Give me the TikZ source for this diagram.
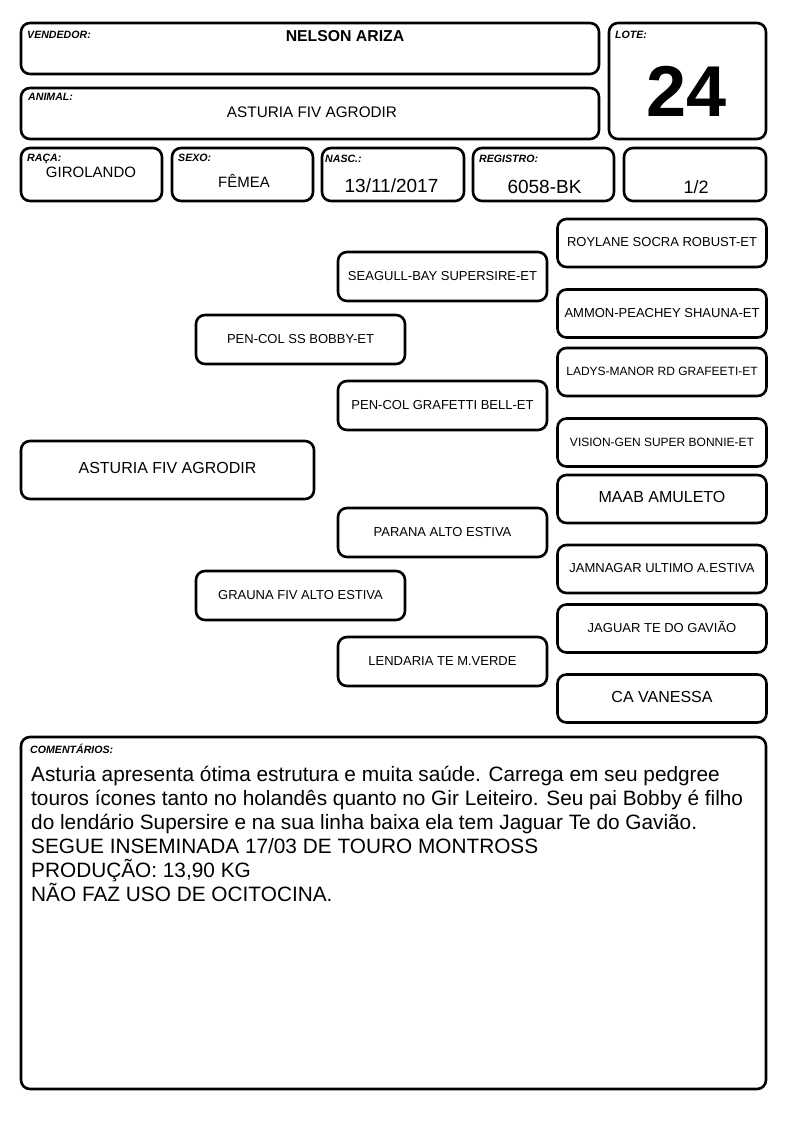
\documentclass[tikz,border=0pt]{standalone}
\usepackage{fontspec}
\setmainfont{Liberation Sans}
\usetikzlibrary{positioning}

\begin{document}
\begin{tikzpicture}[x=1pt,y=-1pt,
	field/.style={draw=black,line width=2.6pt,rounded corners=9pt,inner sep=0pt},
	fieldname/.style={anchor=base west,inner sep=0pt,font=\fontsize{10.6}{12}\selectfont\bfseries\itshape},
	value/.style={anchor=base,inner sep=0pt},
	pedbox/.style={field,minimum width=209pt,minimum height=48pt,text height=0.76em,text depth=0pt,font=\fontsize{13}{15}\selectfont}]
	
	\useasboundingbox (0,0) rectangle (794,1123);
	
	% header
	\node[field,minimum width=578pt,minimum height=51pt] (vendedor) at (310,48.5) {};
	\node[field,minimum width=578pt,minimum height=51pt] (animal) at (310,113.5) {};
	\node[field,minimum width=157pt,minimum height=116pt] (lote) at (687.5,81) {};
	\node[fieldname] (vendedorname) at (27,39) {VENDEDOR:};
	\node[fieldname] (animalname) at (28,101) {ANIMAL:};
	\node[fieldname] (lotename) at (615,39) {LOTE:};
	\node[value,font=\fontsize{15.8}{18}\selectfont\bfseries] (vendedortext) at (345,42) {NELSON ARIZA};
	\node[value,font=\fontsize{15.3}{18}\selectfont] (animaltext) at (312,118) {ASTURIA FIV AGRODIR};
	\node[value,font=\fontsize{72}{80}\selectfont\bfseries] (lotetext) at (687,117) {24};
	
	% data row
	\node[field,minimum width=141pt,minimum height=53pt] (raca) at (91.5,174.5) {};
	\node[field,minimum width=141pt,minimum height=53pt] (sexo) at (242.5,174.5) {};
	\node[field,minimum width=142pt,minimum height=53pt] (nasc) at (393,174.5) {};
	\node[field,minimum width=141pt,minimum height=53pt] (registro) at (543.5,174.5) {};
	\node[field,minimum width=142pt,minimum height=53pt] (parte) at (695,174.5) {};
	\node[fieldname] (racaname) at (27,162) {RAÇA:};
	\node[fieldname] (sexoname) at (178,162) {SEXO:};
	\node[fieldname] (nascname) at (325,163) {NASC.:};
	\node[fieldname] (registroname) at (479,163) {REGISTRO:};
	\node[value,font=\fontsize{15}{18}\selectfont] (racatext) at (91,178) {GIROLANDO};
	\node[value,font=\fontsize{15}{18}\selectfont] (sexotext) at (244,188) {FÊMEA};
	\node[value,font=\fontsize{19}{22}\selectfont] (nasctext) at (391.5,193) {13/11/2017};
	\node[value,font=\fontsize{19}{22}\selectfont] (registrotext) at (544.5,194) {6058-BK};
	\node[value,font=\fontsize{18}{21}\selectfont] (partetext) at (696,194) {1/2};
	
	% pedigree
	\node[pedbox,minimum width=293pt,minimum height=58pt,font=\fontsize{16}{19}\selectfont] (asturia) at (167.5,470) {ASTURIA FIV AGRODIR};
	
	\node[pedbox,minimum height=49pt] (bobby) at (300.5,339.5) {PEN-COL SS BOBBY-ET};
	\node[pedbox,minimum height=49pt] (grauna) at (300.5,595.5) {GRAUNA FIV ALTO ESTIVA};
	
	\node[pedbox,minimum height=49pt] (supersire) at (442.5,276.5) {SEAGULL-BAY SUPERSIRE-ET};
	\node[pedbox,minimum height=49pt] (bell) at (442.5,405.5) {PEN-COL GRAFETTI BELL-ET};
	\node[pedbox,minimum height=49pt] (parana) at (442.5,532.5) {PARANA ALTO ESTIVA};
	\node[pedbox,minimum height=49pt] (lendaria) at (442.5,661.5) {LENDARIA TE M.VERDE};
	
	\node[pedbox] (robust) at (662,243) {ROYLANE SOCRA ROBUST-ET};
	\node[pedbox] (shauna) at (662,313.5) {AMMON-PEACHEY SHAUNA-ET};
	\node[pedbox,font=\fontsize{12}{14}\selectfont] (ladys) at (662,372) {LADYS-MANOR RD GRAFEETI-ET};
	\node[pedbox,font=\fontsize{12}{14}\selectfont] (bonnie) at (662,442.5) {VISION-GEN SUPER BONNIE-ET};
	\node[pedbox,font=\fontsize{16}{19}\selectfont] (maab) at (662,499) {MAAB AMULETO};
	\node[pedbox] (jamnagar) at (662,569) {JAMNAGAR ULTIMO A.ESTIVA};
	\node[pedbox] (jaguar) at (662,628.5) {JAGUAR TE DO GAVIÃO};
	\node[pedbox,font=\fontsize{16}{19}\selectfont] (vanessa) at (662,698.5) {CA VANESSA};
	
	% comments
	\node[field,minimum width=745pt,minimum height=352pt] (comentarios) at (393.5,913) {};
	\node[fieldname] (comentariosname) at (30,753) {COMENTÁRIOS:};
	\foreach \line [count=\i from 0] in {{Asturia apresenta ótima estrutura e muita saúde. Carrega em seu pedgree},
		{touros ícones tanto no holandês quanto no Gir Leiteiro. Seu pai Bobby é filho},
		{do lendário Supersire e na sua linha baixa ela tem Jaguar Te do Gavião.},
		{SEGUE INSEMINADA 17/03 DE TOURO MONTROSS},
		{PRODUÇÃO: 13,90 KG},
		{NÃO FAZ USO DE OCITOCINA.}}
	\node[anchor=base west,inner sep=0pt,font=\fontsize{20.8}{24}\selectfont] (comment\i) at (31,781+24*\i) {\line};
	
\end{tikzpicture}
\end{document}
